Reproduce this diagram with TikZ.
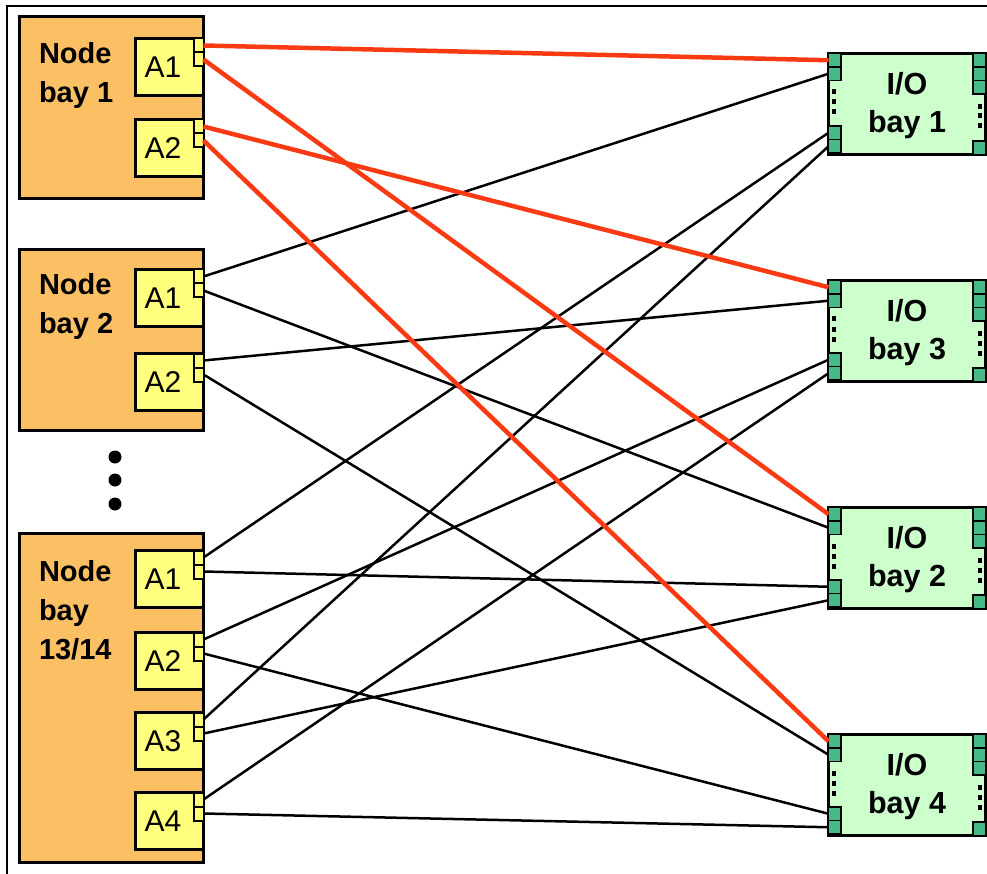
\documentclass[tikz,border=0pt]{standalone}
\usepackage{fontspec}
\setmainfont{Liberation Sans}
\usetikzlibrary{calc, positioning}

\definecolor{bayorange}{RGB}{251,192,100}
\definecolor{adyellow}{RGB}{255,255,125}
\definecolor{iolight}{RGB}{204,255,204}
\definecolor{portgreen}{RGB}{70,186,134}
\definecolor{linkred}{RGB}{250,58,18}

\begin{document}
\begin{tikzpicture}[x=1pt, y=-1pt,
	every node/.style={inner sep=0pt, outer sep=0pt},
	nodebay/.style={draw, line width=3pt, fill=bayorange, anchor=north west, minimum width=184.5pt},
	adapter/.style={draw, line width=2.5pt, fill=adyellow, anchor=north east, minimum width=68pt, minimum height=57pt},
	adport/.style={draw, line width=2pt, fill=adyellow, minimum width=10pt, minimum height=14pt},
	iobay/.style={draw, line width=3.5pt, fill=iolight, anchor=north west, minimum width=157pt, minimum height=101pt},
	ioport/.style={draw, line width=1.8pt, fill=portgreen, minimum width=12.5pt, minimum height=13.5pt},
	baytext/.style={font=\fontsize{29}{39}\selectfont\bfseries, align=left},
	iotext/.style={font=\fontsize{30.5}{38}\selectfont\bfseries, align=center},
	adtext/.style={font=\fontsize{30}{34}\selectfont, xshift=-6.5pt},
	link/.style={line width=2.5pt},
	redlink/.style={line width=4.5pt, color=linkred}]

	\useasboundingbox (0,0) rectangle (987,874);
	\draw[line width=1.5pt] (7,874) -- (7,6) -- (987,6);

	% node bays
	\node[nodebay, minimum height=181.5pt] (NB1) at (19,17) {};
	\node[nodebay, minimum height=181pt] (NB2) at (19,249.5) {};
	\node[nodebay, minimum height=329pt] (NB13) at (19,533.5) {};
	\node[baytext, below right=25pt and 20pt of NB1.north west] (NB1-txt) {Node\\bay 1};
	\node[baytext, below right=24pt and 20pt of NB2.north west] (NB2-txt) {Node\\bay 2};
	\node[baytext, below right=27pt and 20pt of NB13.north west] (NB13-txt) {Node\\bay\\13/14};
	\foreach \y in {457,480,504}
		\fill (115,\y) circle (6.5);

	% adapters and their two ports
	\foreach \bay/\n/\off in {NB1/1/21.5, NB1/2/102.5, NB2/1/20, NB2/2/104,
			NB13/1/17, NB13/2/99, NB13/3/179, NB13/4/259} {
		\node[adapter, label={[adtext]center:A\n}] (\bay-A\n) at ([yshift=-\off*1pt]\bay.north east) {};
		\node[adport, anchor=north east] (\bay-A\n-p1) at (\bay-A\n.north east) {};
		\node[adport, below=0pt of \bay-A\n-p1] (\bay-A\n-p2) {};
	}

	% I/O bays
	\foreach \n/\y in {1/53.5, 3/280.5, 2/507.5, 4/734.5} {
		\node[iobay] (IO\n) at (828.5,\y) {};
		\node[iotext] (IO\n-txt) at ([yshift=-1.5pt]IO\n.center) {I/O\\bay \n};
		% left ports
		\node[ioport, anchor=north west] (IO\n-p1) at (IO\n.north west) {};
		\node[ioport, below=0pt of IO\n-p1] (IO\n-p2) {};
		\node[ioport, anchor=south west] (IO\n-p4) at ([yshift=1.5pt]IO\n.south west) {};
		\node[ioport, above=0pt of IO\n-p4] (IO\n-p3) {};
		% right ports
		\node[ioport, anchor=north east] (IO\n-r1) at (IO\n.north east) {};
		\node[ioport, below=0pt of IO\n-r1] (IO\n-r2) {};
		\node[ioport, below=0pt of IO\n-r2] (IO\n-r3) {};
		\node[ioport, anchor=south east] (IO\n-r4) at (IO\n.south east) {};
		\foreach \d in {36,46,56}
			\fill ([xshift=3.5pt, yshift=-\d*1pt]IO\n.north west) rectangle +(4,5);
		\foreach \d in {50.5,60,70}
			\fill ([xshift=-7.5pt, yshift=-\d*1pt]IO\n.north east) rectangle +(4,5);
	}

	% links
	\begin{scope}[link]
		\draw (NB2-A1-p1.east) -- (IO1-p2.west);
		\draw (NB2-A1-p2.east) -- (IO2-p2.west);
		\draw (NB2-A2-p1.east) -- (IO3-p2.west);
		\draw (NB2-A2-p2.east) -- (IO4-p2.west);
		\draw (NB13-A1-p1.east) -- (IO1-p3.west);
		\draw (NB13-A1-p2.east) -- (IO2-p3.west);
		\draw (NB13-A2-p1.east) -- (IO3-p3.west);
		\draw (NB13-A2-p2.east) -- (IO4-p3.west);
		\draw (NB13-A3-p1.east) -- (IO1-p4.west);
		\draw (NB13-A3-p2.east) -- (IO2-p4.west);
		\draw (NB13-A4-p1.east) -- (IO3-p4.west);
		\draw (NB13-A4-p2.east) -- (IO4-p4.west);
	\end{scope}
	\begin{scope}[redlink]
		\draw (NB1-A1-p1.east) -- (IO1-p1.west);
		\draw (NB1-A1-p2.east) -- (IO2-p1.west);
		\draw (NB1-A2-p1.east) -- (IO3-p1.west);
		\draw (NB1-A2-p2.east) -- (IO4-p1.west);
	\end{scope}
\end{tikzpicture}
\end{document}
